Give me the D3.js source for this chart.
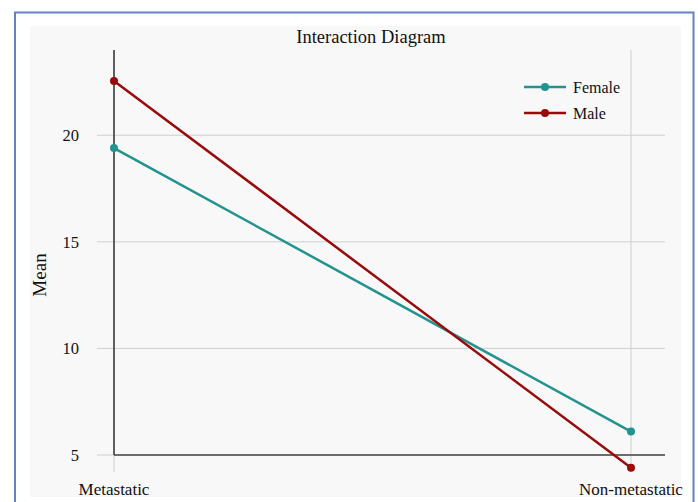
<!DOCTYPE html>
<html>
<head>
<meta charset="utf-8">
<script src="https://cdn.jsdelivr.net/npm/d3@7"></script>
<style>
  html, body { margin: 0; padding: 0; background: #fff; }
  svg { display: block; }
  text { font-family: "Liberation Serif", "Times New Roman", serif; fill: #111; }
</style>
</head>
<body>
<script>
// Interaction plot: mean by group and sex
const groups = ["Metastatic", "Non-metastatic"];
const femaleMeans = [19.4, 6.1];
const maleMeans = [22.55, 4.4];
const yTicks = [5, 10, 15, 20];
const seriesNames = ["Female", "Male"];
const seriesColors = ["#23938f", "#9b0a0a"];

const W = 698, H = 502;
const svg = d3.select("body").append("svg").attr("width", W).attr("height", H);

// Outer frame and panel
svg.append("rect").attr("width", W).attr("height", H).attr("fill", "#fff");
svg.append("path")
  .attr("d", `M15,${H} L15,12.5 L693.5,12.5 L693.5,${H}`)
  .attr("fill", "none").attr("stroke", "#6283c2").attr("stroke-width", 2);
svg.append("rect").attr("x", 30).attr("y", 26).attr("width", 651).attr("height", 471).attr("fill", "#f8f8f8");

const x = d3.scalePoint().domain(groups).range([114, 631]);
const y = d3.scaleLinear().domain([5, 24]).range([455, 50]);

// Horizontal gridlines
svg.append("g").selectAll("line").data(yTicks).join("line")
  .attr("x1", 97).attr("x2", 665)
  .attr("y1", d => y(d)).attr("y2", d => y(d))
  .attr("stroke", "#cfcfcf").attr("stroke-width", 1);

// Vertical gridlines at each group
svg.append("g").selectAll("line").data(groups).join("line")
  .attr("x1", d => x(d)).attr("x2", d => x(d))
  .attr("y1", 50).attr("y2", 472)
  .attr("stroke", "#cfcfcf").attr("stroke-width", 1);

// Axis lines
svg.append("line").attr("x1", x(groups[0])).attr("x2", x(groups[0]))
  .attr("y1", 50).attr("y2", 455).attr("stroke", "#333").attr("stroke-width", 1.5);
svg.append("line").attr("x1", x(groups[0])).attr("x2", 665)
  .attr("y1", 455).attr("y2", 455).attr("stroke", "#444").attr("stroke-width", 1.5);

// Y tick labels
svg.append("g").selectAll("text").data(yTicks).join("text")
  .attr("x", 79).attr("y", d => y(d))
  .attr("dy", "0.35em").attr("text-anchor", "end")
  .style("font-size", "16.5px").text(d => d);

// X labels
svg.append("g").selectAll("text").data(groups).join("text")
  .attr("x", d => x(d)).attr("y", 495)
  .attr("text-anchor", "middle").style("font-size", "17px").text(d => d);

// Y axis title
svg.append("text").attr("transform", "translate(46,275) rotate(-90)")
  .attr("text-anchor", "middle").style("font-size", "19px").text("Mean");

// Title
svg.append("text").attr("x", 371).attr("y", 43)
  .attr("text-anchor", "middle").style("font-size", "18.5px").text("Interaction Diagram");

// Series lines and points
const series = [femaleMeans, maleMeans];
const line = d3.line().x((d, i) => x(groups[i])).y(d => y(d));
series.forEach((vals, s) => {
  svg.append("path").datum(vals).attr("d", line)
    .attr("fill", "none").attr("stroke", seriesColors[s]).attr("stroke-width", 2.5);
  svg.append("g").selectAll("circle").data(vals).join("circle")
    .attr("cx", (d, i) => x(groups[i])).attr("cy", d => y(d)).attr("r", 4)
    .attr("fill", seriesColors[s]);
});

// Legend
const legend = svg.append("g");
seriesNames.forEach((name, s) => {
  const ly = 87 + s * 26;
  legend.append("line").attr("x1", 524).attr("x2", 566).attr("y1", ly).attr("y2", ly)
    .attr("stroke", seriesColors[s]).attr("stroke-width", 2.5);
  legend.append("circle").attr("cx", 545).attr("cy", ly).attr("r", 4).attr("fill", seriesColors[s]);
  legend.append("text").attr("x", 573).attr("y", ly).attr("dy", "0.35em")
    .style("font-size", "16px").text(name);
});
</script>
</body>
</html>
